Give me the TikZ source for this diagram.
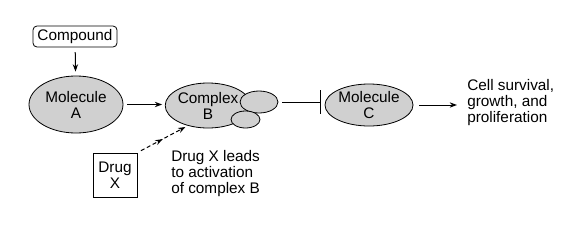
\documentclass[tikz,border=0pt]{standalone}
\usepackage{fontspec}
\setmainfont{Liberation Sans}
\usetikzlibrary{arrows.meta,shapes.geometric,decorations.markings,calc}
\definecolor{cellgray}{RGB}{208,208,208}
\tikzset{
  mol/.style={ellipse, draw, fill=cellgray, line width=0.6pt, inner sep=0pt, align=center},
  lab/.style={inner sep=0pt, align=left, anchor=west},
  arr/.style={line width=0.75pt, -{Stealth[length=5.5pt,width=4pt]}},
}
\begin{document}
\begin{tikzpicture}[x=0.75pt,y=-0.75pt,font=\fontsize{11.5}{12}\selectfont]
\useasboundingbox (0,0) rectangle (571,229);
% nodes
\node[draw, rounded corners=3pt, line width=0.6pt, minimum width=63pt, minimum height=15.75pt, inner sep=0pt] (cmp) at (75,36.5) {Compound};
\node[mol, minimum width=70.5pt, minimum height=42.75pt] (A) at (76,104.5) {Molecule\\A};
\node[mol, minimum width=55.5pt, minimum height=33.75pt] (B) at (208,105.5) {Complex\\B};
\node[ellipse, draw, fill=cellgray, line width=0.6pt, minimum width=28.5pt, minimum height=16.5pt, inner sep=0pt] (b1) at (259,102) {};
\node[ellipse, draw, fill=cellgray, line width=0.6pt, minimum width=21.75pt, minimum height=12.75pt, inner sep=0pt] (b2) at (245.5,119.5) {};
\node[mol, minimum width=66pt, minimum height=31.5pt] (C) at (369,105) {Molecule\\C};
\node[draw, line width=0.6pt, minimum width=33pt, minimum height=33pt, inner sep=0pt, align=center] (D) at (115,175) {Drug\\X};
\node[lab] (out) at (467,102.7) {Cell survival,\\growth, and\\proliferation};
\node[lab] (note) at (171,174) {Drug X leads\\to activation\\of complex B};
% connectors
\draw[arr, shorten <=3.5pt, shorten >=3pt] (cmp) -- (A);
\draw[arr, shorten <=3pt, shorten >=2pt] (A.east) -- (A.east -| B.west);
\draw[line width=0.75pt, -{Bar[width=18pt,line width=0.75pt]}, shorten <=3pt, shorten >=3pt] (b1.east) -- (b1.east -| C.west);
\draw[arr, shorten <=4.5pt, shorten >=7.5pt] (C.east) -- (C.east -| out.west);
\draw[arr, dash pattern=on 3pt off 2pt, shorten <=3pt, shorten >=2pt,
  postaction={decorate, decoration={markings, mark=at position 0.5 with {\arrow{Stealth[length=5.5pt,width=4pt]}}}}]
  (D.north east) -- (B.225);
\end{tikzpicture}
\end{document}
